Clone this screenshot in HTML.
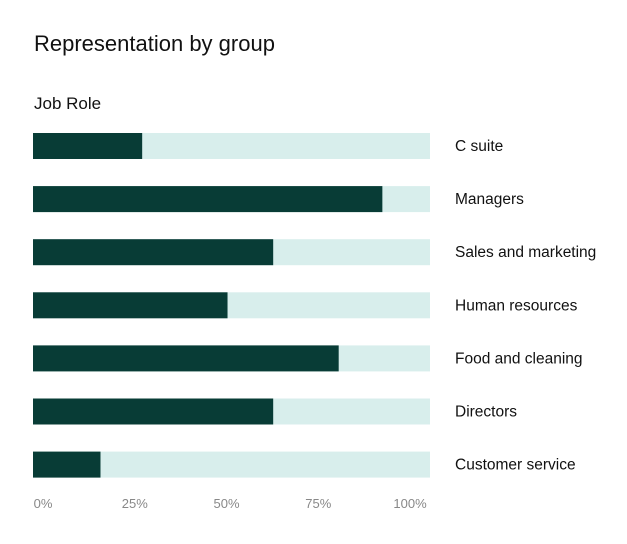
<!DOCTYPE html>
<html><head><meta charset="utf-8"><style>
body{margin:0;background:#fff;font-family:"Liberation Sans",sans-serif;}
#wrap{position:relative;width:627px;height:544px;overflow:hidden;}
.t{position:absolute;color:#111;white-space:nowrap;}
</style></head><body>
<div id="wrap">
<div class="t" style="left:34px;top:31px;font-size:22px;">Representation by group</div>
<div class="t" style="left:34px;top:94px;font-size:17px;">Job Role</div>
<svg id="svg" width="627" height="544" style="position:absolute;left:0;top:0"></svg>
</div>
<script>
const categories=["C suite","Managers","Sales and marketing","Human resources","Food and cleaning","Directors","Customer service"];
const values=[27.5,88,60.5,49,77,60.5,17];
const tickValues=[0,25,50,75,100];
const tickLabels=["0%","25%","50%","75%","100%"];
const NS="http://www.w3.org/2000/svg";
const svg=document.getElementById('svg');
const x0=33,x1=430;
const xs=v=>x0+(x1-x0)*v/100;
const yc=i=>146+i*53.1;
const tickX=v=>43+(410-43)*v/100;
function mk(t,a){const e=document.createElementNS(NS,t);for(const k in a)e.setAttribute(k,a[k]);svg.appendChild(e);return e;}
categories.forEach((c,i)=>{
 const bg=mk('rect',{x:x0,y:yc(i)-13,width:x1-x0,height:26,fill:'#d8eeec'});
 
 
 const b=mk('rect',{x:x0,y:yc(i)-13,width:xs(values[i])-x0,height:26,fill:'#083c36'});
 
 
 const t=mk('text',{x:455,y:yc(i)+5,'font-size':15.5,fill:'#111','font-family':'Liberation Sans, sans-serif'});
 t.textContent=c;
 
 
});
tickValues.forEach((v,i)=>{
 const t=mk('text',{x:tickX(v),y:508,'font-size':13,fill:'#888','text-anchor':'middle','font-family':'Liberation Sans, sans-serif'});
 t.textContent=tickLabels[i];
 
 
});
</script>
</body></html>
